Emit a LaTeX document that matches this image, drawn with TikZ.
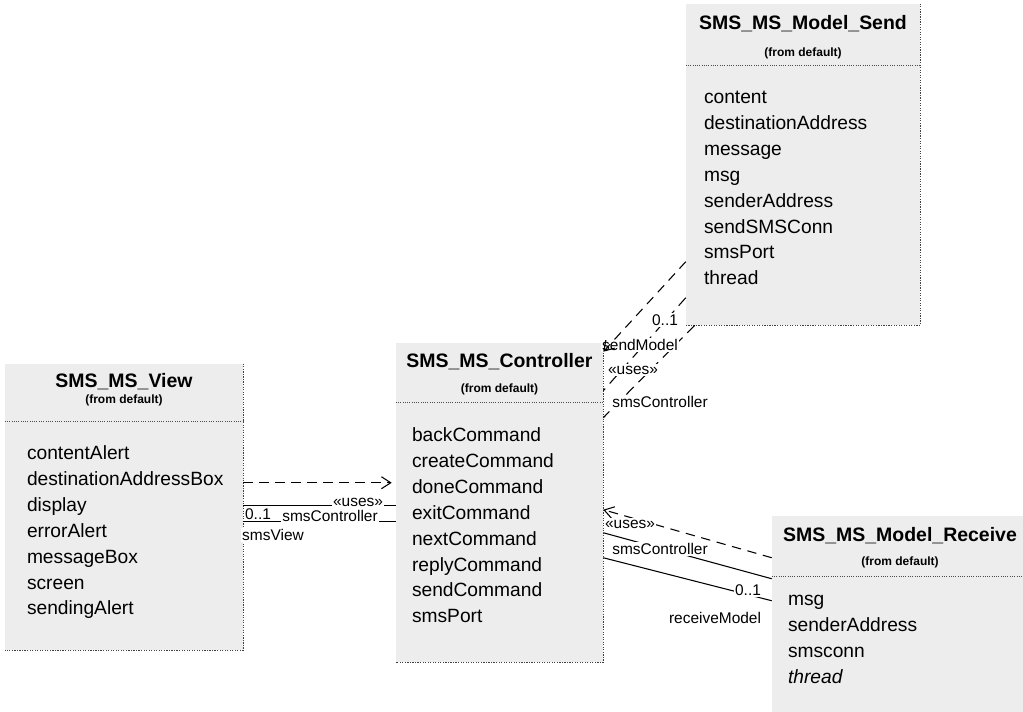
\documentclass[tikz,border=0pt]{standalone}
\usepackage{fontspec}
\setmainfont{Liberation Sans}
\usetikzlibrary{arrows.meta, fit}

\begin{document}
\begin{tikzpicture}[x=0.75pt, y=-0.75pt,
                classbox/.style={rectangle, fill=black!7, inner sep=0pt},
                classname/.style={font={\bfseries\fontsize{14.6pt}{17pt}\selectfont}, inner sep=0pt, anchor=base},
                fromdef/.style={font={\bfseries\fontsize{9pt}{11pt}\selectfont}, inner sep=0pt, anchor=base},
                attrs/.style={font={\fontsize{14.4pt}{19.4pt}\selectfont}, inner sep=0pt, anchor=base west},
                border/.style={densely dotted, line width=0.9pt, black!75},
                sepline/.style={densely dotted, line width=0.7pt, black!70},
                dep/.style={dash pattern=on 7pt off 5pt, line width=0.8pt, -{Straight Barb[length=7pt,width=9pt]}},
                assoc/.style={line width=0.8pt},
                assocbroken/.style={dash pattern=on 8pt off 5pt, line width=0.8pt},
                lbl/.style={font={\fontsize{11.6pt}{14pt}\selectfont}, fill=white, inner sep=1pt}]

            \useasboundingbox (0,0) rectangle (1023,711);
            \clip (0,0) rectangle (1023,711);

            % Class boxes
            \node[classbox, fit={(5,364) (243,650)}] (view) {};
            \node[classbox, fit={(396,343) (603,662)}] (ctrl) {};
            \node[classbox, fit={(686,4) (920,325)}] (send) {};
            \node[classbox, fit={(772,516) (1028,730)}] (recv) {};

            \draw[border] (view.north east) -- (view.south east) -- (view.south west);
            \draw[border] (ctrl.north east) -- (ctrl.south east) -- (ctrl.south west);
            \draw[border] (send.north east) -- (send.south east) -- (send.south west);
            \draw[border] (recv.north east) -- (recv.south east) -- (recv.south west);

            % SMS_MS_View
            \node[classname] (viewname) at ([shift={(0,24)}]view.north) {SMS\_MS\_View};
            \node[fromdef] (viewfrom) at ([shift={(0,40)}]view.north) {(from default)};
            \draw[sepline] ([shift={(0,58)}]view.north west) -- ([shift={(0,58)}]view.north east);
            \node[attrs] (viewattrs) at ([shift={(22,96)}]view.north west) {
                \begin{tabular}[t]{@{}l@{}}
                    contentAlert \\ destinationAddressBox \\ display \\ errorAlert \\ messageBox \\ screen \\ sendingAlert
                \end{tabular}
            };

            % SMS_MS_Controller
            \node[classname] (ctrlname) at ([shift={(0,25)}]ctrl.north) {SMS\_MS\_Controller};
            \node[fromdef] (ctrlfrom) at ([shift={(0,50)}]ctrl.north) {(from default)};
            \draw[sepline] ([shift={(0,60)}]ctrl.north west) -- ([shift={(0,60)}]ctrl.north east);
            \node[attrs] (ctrlattrs) at ([shift={(16,99)}]ctrl.north west) {
                \begin{tabular}[t]{@{}l@{}}
                    backCommand \\ createCommand \\ doneCommand \\ exitCommand \\ nextCommand \\ replyCommand \\ sendCommand \\ smsPort
                \end{tabular}
            };

            % SMS_MS_Model_Send
            \node[classname] (sendname) at ([shift={(0,26)}]send.north) {SMS\_MS\_Model\_Send};
            \node[fromdef] (sendfrom) at ([shift={(0,53)}]send.north) {(from default)};
            \draw[sepline] ([shift={(0,62)}]send.north west) -- ([shift={(0,62)}]send.north east);
            \node[attrs] (sendattrs) at ([shift={(18,100)}]send.north west) {
                \begin{tabular}[t]{@{}l@{}}
                    content \\ destinationAddress \\ message \\ msg \\ senderAddress \\ sendSMSConn \\ smsPort \\ thread
                \end{tabular}
            };

            % SMS_MS_Model_Receive
            \node[classname] (recvname) at ([shift={(0,26)}]recv.north) {SMS\_MS\_Model\_Receive};
            \node[fromdef] (recvfrom) at ([shift={(0,50)}]recv.north) {(from default)};
            \draw[sepline] ([shift={(0,61)}]recv.north west) -- ([shift={(0,61)}]recv.north east);
            \node[attrs] (recvattrs) at ([shift={(16,90)}]recv.north west) {
                \begin{tabular}[t]{@{}l@{}}
                    msg \\ senderAddress \\ smsconn \\ \textit{thread}
                \end{tabular}
            };

            % Connectors
            \draw[dep] ([shift={(0,119)}]view.north east) -- ([shift={(-4,140)}]ctrl.north west);
            \draw[assoc] ([shift={(0,142)}]view.north east) -- ([shift={(0,163)}]ctrl.north west);
            \draw[assoc] ([shift={(0,158)}]view.north east) -- ([shift={(0,179)}]ctrl.north west);

            \draw[assocbroken] ([shift={(0,294)}]send.north west) -- ([shift={(0,48)}]ctrl.north east);
            \draw[assocbroken] ([shift={(9,0)}]send.south west) -- ([shift={(0,75)}]ctrl.north east);

            \draw[dep] ([shift={(0,42)}]recv.north west) -- ([shift={(0,167)}]ctrl.north east);
            \draw[assoc] ([shift={(0,190)}]ctrl.north east) -- ([shift={(0,63)}]recv.north west);
            \draw[assoc] ([shift={(0,215)}]ctrl.north east) -- ([shift={(0,85)}]recv.north west);

            % Connector labels
            \node[lbl] (vuses) at (358,502) {«uses»};
            \node[lbl] (vmult) at (258,514) {0..1};
            \node[lbl] (vctrlrole) at (330,516) {smsController};
            \node[lbl] (vviewrole) at (273,535) {smsView};

            \node[lbl] (smult) at (665,320) {0..1};
            \node[lbl] (ssendrole) at (640,345) {sendModel};
            \node[lbl] (suses) at (633,370) {«uses»};
            \node[lbl] (sctrlrole) at (660,402) {smsController};

            \node[lbl] (ruses) at (630,524) {«uses»};
            \node[lbl] (rctrlrole) at (660,549) {smsController};
            \node[lbl] (rmult) at (748,590) {0..1};
            \node[lbl] (rrecvrole) at (715,618) {receiveModel};

            % dependency arrow drawn over its role label
            \draw[dep] ([shift={(0,258)}]send.north west) -- ([shift={(0,9)}]ctrl.north east);

        \end{tikzpicture}
\end{document}
